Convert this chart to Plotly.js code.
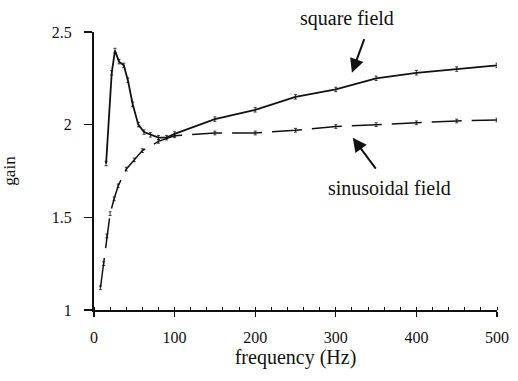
<!DOCTYPE html>
<html>
<head>
<meta charset="utf-8">
<script src="https://cdn.plot.ly/plotly-3.0.1.min.js"></script>
<style>
  html, body { margin: 0; padding: 0; background: #fff; }
  #chart { width: 518px; height: 381px; }
</style>
</head>
<body>
<div id="chart"></div>
<script>
// ---- data ----
const squareFreq = [15, 22, 26, 31, 37, 42, 48, 55, 62, 70, 80, 90, 100, 150, 200, 250, 300, 350, 400, 450, 500];
const squareGain = [1.79, 2.28, 2.40, 2.34, 2.32, 2.24, 2.11, 2.00, 1.96, 1.945, 1.93, 1.93, 1.95, 2.03, 2.08, 2.15, 2.19, 2.25, 2.28, 2.30, 2.32];

const sinFreq = [8, 12, 16, 20, 25, 30, 40, 50, 60, 80, 100, 150, 200, 250, 300, 350, 400, 450, 500];
const sinGain = [1.12, 1.25, 1.40, 1.52, 1.60, 1.67, 1.76, 1.81, 1.86, 1.91, 1.94, 1.955, 1.955, 1.97, 1.99, 2.00, 2.01, 2.02, 2.025];

const xTicks = [0, 100, 200, 300, 400, 500];
const yTicks = [1, 1.5, 2, 2.5];

const labelSquare = "square field";
const labelSin = "sinusoidal field";

const fam = "Liberation Serif";
const ink = "#111";

const traces = [
  {
    x: squareFreq, y: squareGain, type: "scatter", mode: "lines",
    line: { color: ink, width: 1.8 },
    error_y: { type: "constant", value: 0.012, color: ink, thickness: 0.8, width: 1.5 },
    name: labelSquare
  },
  {
    x: sinFreq, y: sinGain, type: "scatter", mode: "lines",
    line: { color: ink, width: 1.5, dash: "30px,10px" },
    error_y: { type: "constant", value: 0.01, color: ink, thickness: 0.8, width: 1.5 },
    name: labelSin
  }
];

const layout = {
  width: 518, height: 381,
  margin: { l: 94, r: 21, t: 32, b: 71 },
  paper_bgcolor: "#fff", plot_bgcolor: "#fff",
  showlegend: false,
  font: { family: fam, color: ink, size: 15 },
  xaxis: {
    range: [0, 500], tickvals: xTicks, ticktext: xTicks.map(String),
    showgrid: false, zeroline: false,
    showline: true, linecolor: ink, linewidth: 1.5,
    ticks: "outside", ticklen: 5, tickwidth: 1.3, tickcolor: ink,
    minor: { dtick: 20, ticks: "inside", ticklen: 3, tickwidth: 1, tickcolor: ink, showgrid: false },
    tickfont: { family: fam, size: 16, color: ink },
    ticklabelstandoff: 7,
    title: { text: "frequency (Hz)", font: { family: fam, size: 20, color: ink }, standoff: 5 },
    fixedrange: true
  },
  yaxis: {
    range: [1, 2.5], tickvals: yTicks, ticktext: yTicks.map(String),
    showgrid: false, zeroline: false,
    showline: true, linecolor: ink, linewidth: 2,
    ticks: "outside", ticklen: 8, tickwidth: 1.3, tickcolor: ink,
    tickfont: { family: fam, size: 16, color: ink },
    ticklabelstandoff: 9,
    title: { text: "gain", font: { family: fam, size: 17, color: ink }, standoff: 34 },
    fixedrange: true
  },
  annotations: [
    { x: 314, y: 1.05, xref: "x", yref: "paper", yanchor: "middle", text: labelSquare, showarrow: false,
      font: { family: fam, size: 20, color: ink } },
    { x: 320, y: 2.28, xref: "x", yref: "y", text: "", showarrow: true,
      axref: "x", ayref: "y", ax: 336, ay: 2.47,
      arrowhead: 2, arrowsize: 1.4, arrowwidth: 2, arrowcolor: ink },
    { x: 367, y: 1.66, xref: "x", yref: "y", yanchor: "middle", text: labelSin, showarrow: false,
      font: { family: fam, size: 20, color: ink } },
    { x: 321, y: 1.93, xref: "x", yref: "y", text: "", showarrow: true,
      axref: "x", ayref: "y", ax: 351, ay: 1.755,
      arrowhead: 2, arrowsize: 1.4, arrowwidth: 2, arrowcolor: ink }
  ]
};

Plotly.newPlot("chart", traces, layout, { staticPlot: true, displayModeBar: false });
</script>
</body>
</html>
